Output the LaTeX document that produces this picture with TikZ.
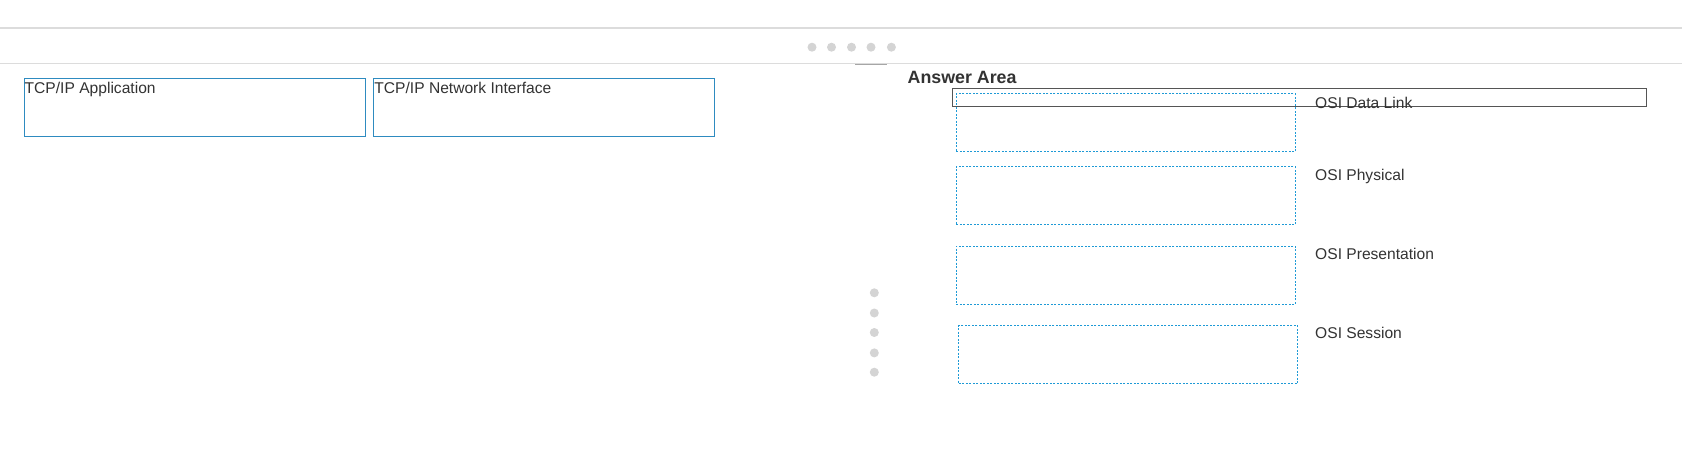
\documentclass[tikz,border=0pt]{standalone}
\usepackage{fontspec}
\setmainfont{Liberation Sans}
\definecolor{txt}{HTML}{333333}
\definecolor{boxblue}{HTML}{2E8BC0}
\definecolor{dotblue}{HTML}{1E9AD6}
\definecolor{sepgray}{HTML}{DCDCDC}
\definecolor{dotgray}{HTML}{D4D4D4}
\definecolor{darkrect}{HTML}{555555}
\begin{document}
\begin{tikzpicture}[x=1pt,y=-1pt,
  srcbox/.style={draw=boxblue, line width=1pt, anchor=north west, inner sep=0pt, minimum width=341pt, minimum height=58pt},
  dropbox/.style={draw=dotblue, line width=1pt, dash pattern=on 2pt off 1.5pt, anchor=north west, inner sep=0pt, minimum width=339pt, minimum height=58pt},
  lbl/.style={anchor=base west, inner sep=0pt, text=txt, font=\fontsize{15.6}{18}\selectfont},
  pagedot/.style={circle, fill=dotgray, inner sep=0pt, minimum size=9pt},
  sepline/.style={draw=sepgray, line width=1.5pt}
]
\useasboundingbox[fill=white] (0,0) rectangle (1682,452);
% separator lines
\coordinate (l1a) at (0,28);
\coordinate (l1b) at (1682,28);
\coordinate (l2a) at (0,63.5);
\coordinate (l2b) at (1682,63.5);
\draw[sepline] (l1a) -- (l1b);
\draw[sepline] (l2a) -- (l2b);
\coordinate (tabA) at (855,64.5);
\coordinate (tabB) at (887,64.5);
\draw[draw=gray!70, line width=1.2pt] (tabA) -- (tabB);
% horizontal pager dots
\foreach \i/\x in {1/812,2/831.5,3/851.5,4/871,5/891.4}
  \node[pagedot] (hd\i) at (\x,47.2) {};
% vertical pager dots
\foreach \i/\y in {1/292.8,2/313,3/332.5,4/352.9,5/372.2}
  \node[pagedot] (vd\i) at (874.3,\y) {};
% source boxes
\node[srcbox] (app) at (23.6,78.3) {};
\node[lbl] (appt) at (24.5,93.6) {TCP/IP Application};
\node[srcbox] (net) at (373.3,78.3) {};
\node[lbl] (nett) at (374.2,93.6) {TCP/IP Network Interface};
% answer area
\node[anchor=base west, inner sep=0pt, text=txt, font=\fontsize{17.8}{20}\selectfont\bfseries] (ans) at (907.5,83.8) {Answer Area};
\node[dropbox] (d1) at (955.8,93.3) {};
\node[dropbox] (d2) at (955.8,166.3) {};
\node[dropbox] (d3) at (955.8,245.6) {};
\node[dropbox] (d4) at (958.3,325) {};
\node[draw=darkrect, line width=1pt, anchor=north west, inner sep=0pt, minimum width=694pt, minimum height=18pt] (drag) at (951.5,88) {};
\node[lbl] (o1) at (1315,108.6) {OSI Data Link};
\node[lbl] (o2) at (1315,180.5) {OSI Physical};
\node[lbl] (o3) at (1315,259.8) {OSI Presentation};
\node[lbl] (o4) at (1315,338.1) {OSI Session};
\end{tikzpicture}
\end{document}
